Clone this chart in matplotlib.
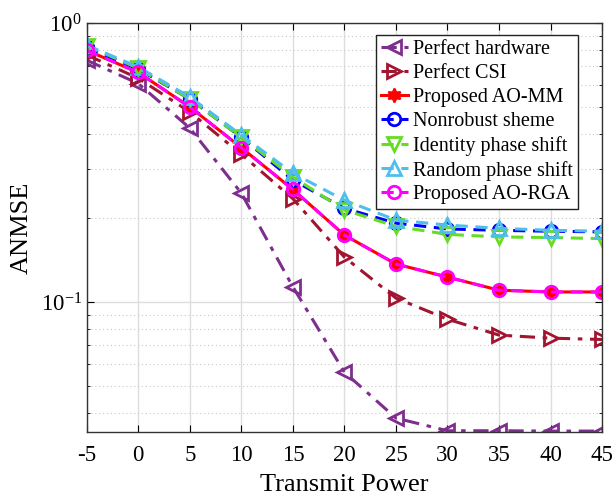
import matplotlib
matplotlib.use("Agg")
import matplotlib.pyplot as plt
from matplotlib.ticker import LogLocator, NullFormatter

plt.rcParams['font.family'] = ['Liberation Serif', 'DejaVu Serif']
plt.rcParams['mathtext.fontset'] = 'stix'
plt.rcParams['axes.unicode_minus'] = False

# Transmit power and ANMSE of each scheme
power = [-5, 0, 5, 10, 15, 20, 25, 30, 35, 40, 45]
perfect_hw = [0.737, 0.608, 0.421, 0.246, 0.1135, 0.0561, 0.0384, 0.0346, 0.0346, 0.0345, 0.0345]
perfect_csi = [0.77, 0.635, 0.481, 0.339, 0.235, 0.145, 0.1034, 0.0869, 0.0762, 0.0743, 0.0735]
ao_mm = [0.80, 0.666, 0.501, 0.358, 0.2535, 0.174, 0.137, 0.123, 0.1104, 0.1088, 0.1088]
nonrobust = [0.82, 0.685, 0.535, 0.39, 0.274, 0.217, 0.192, 0.183, 0.181, 0.1796, 0.1787]
identity = [0.83, 0.69, 0.535, 0.39, 0.281, 0.214, 0.187, 0.175, 0.1714, 0.1705, 0.169]
random_ps = [0.834, 0.697, 0.544, 0.397, 0.290, 0.232, 0.197, 0.189, 0.184, 0.181, 0.1796]
ao_rga = [0.80, 0.666, 0.501, 0.358, 0.2535, 0.174, 0.137, 0.123, 0.1104, 0.1088, 0.1088]

labels = ['Perfect hardware', 'Perfect CSI', 'Proposed AO-MM', 'Nonrobust sheme',
          'Identity phase shift', 'Random phase shift', 'Proposed AO-RGA']

fig = plt.figure(figsize=(6.15, 4.95), dpi=100)
ax = fig.add_axes([0.141, 0.127, 0.838, 0.826])

lw = 2.2
ms = 10
ax.plot(power, perfect_hw, color='#7E2F8E', ls='-.', lw=lw, marker='<', ms=ms,
        mfc='none', mew=2, dashes=(5, 2.5, 1.5, 2.5), label=labels[0])
ax.plot(power, perfect_csi, color='#A2142F', ls='-.', lw=lw, marker='>', ms=ms,
        mfc='none', mew=2, dashes=(5, 2.5, 1.5, 2.5), label=labels[1])
ax.plot(power, ao_mm, color='#FF0000', ls='-', lw=lw, marker=(6, 1, 0), ms=ms,
        mfc='#FF0000', mew=1.5, label=labels[2])
ax.plot(power, nonrobust, color='#0000FF', ls='--', lw=lw, marker='o', ms=ms - 1,
        mfc='none', mew=2, dashes=(4, 2.5), label=labels[3])
ax.plot(power, identity, color='#66DD22', ls='--', lw=lw, marker='v', ms=ms,
        mfc='none', mew=2, dashes=(4, 2.5), label=labels[4])
ax.plot(power, random_ps, color='#4DBEEE', ls='--', lw=lw, marker='^', ms=ms,
        mfc='none', mew=2, dashes=(4, 2.5), label=labels[5])
ax.plot(power, ao_rga, color='#FF00FF', ls='--', lw=lw, marker='o', ms=ms - 1,
        mfc='none', mew=2, dashes=(4, 2.5), label=labels[6])

ax.set_yscale('log')
ax.set_xlim(-5, 45)
ax.set_ylim(0.0342, 1)
ax.set_xticks(power)
ax.yaxis.set_major_locator(LogLocator(base=10))
ax.yaxis.set_minor_locator(LogLocator(base=10, subs=range(2, 10)))
ax.yaxis.set_minor_formatter(NullFormatter())

ax.grid(True, which='major', color='#DDDDDD', lw=1, ls='-')
ax.grid(True, which='minor', axis='y', color='#C8C8C8', lw=0.8, ls=(0, (1, 2.5)))
ax.set_axisbelow(True)
ax.tick_params(which='both', direction='in', top=True, right=True, labelsize=16.5)
ax.tick_params(axis='x', pad=9)
ax.tick_params(which='minor', length=2)
ax.tick_params(which='major', length=5)
for s in ax.spines.values():
    s.set_color('#333333')
    s.set_linewidth(1.0)

ax.set_xlabel('Transmit Power', fontsize=19, labelpad=6)
ax.set_ylabel('ANMSE', fontsize=19, labelpad=6)

leg = ax.legend(loc='upper right', bbox_to_anchor=(0.953, 0.971), borderaxespad=0,
                fontsize=14.5, handlelength=1.35, handletextpad=0.25, labelspacing=0.24,
                borderpad=0.25, fancybox=False, framealpha=1, edgecolor='#222222')
leg.get_frame().set_linewidth(1.0)

fig.savefig('out.png', dpi=100)
